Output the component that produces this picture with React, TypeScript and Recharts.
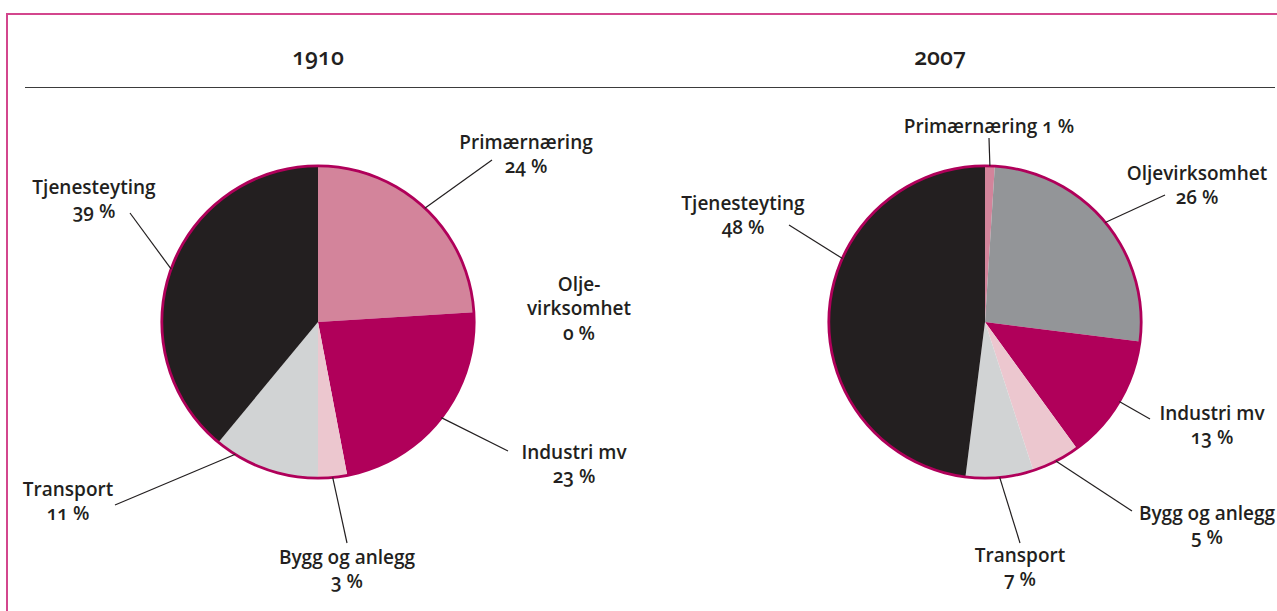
import { PieChart, Pie, Cell } from "recharts";

// sector names, in drawing order (clockwise from 12 o'clock)
const sectors = ["Primærnæring", "Oljevirksomhet", "Industri mv", "Bygg og anlegg", "Transport", "Tjenesteyting"];
const share1910 = [24, 0, 23, 3, 11, 39];
const share2007 = [1, 26, 13, 5, 7, 48];
const years = ["1910", "2007"];

const colors = ["#d3849b", "#939598", "#b0005a", "#ecc7cf", "#d1d3d4", "#231f20"];
const RING = "#b0005a";
const TEXT = "#231f20";
const FONT = "'Open Sans', 'Noto Sans', sans-serif";

const R = 156;
const CY = 322;
const CX = [318, 985];

// label placement relative to pie centre: line end (ex, ey), text centre (tx, ty)
// form: "two" = name / value, "hyph" = split name in three lines, "one" = single line, angle = override of leader start
type LabelPos = { ex?: number; ey?: number; tx: number; ty: number; form: string; angle?: number };
const labels1910: LabelPos[] = [
  { ex: 174, ey: -162, tx: 208, ty: -180, form: "two" },
  { tx: 261, ty: -38, form: "hyph" },
  { ex: 190, ey: 129, tx: 256, ty: 130, form: "two" },
  { ex: 29, ey: 221, tx: 29, ty: 235, form: "two" },
  { ex: -203, ey: 183, tx: -250, ty: 167, form: "two", angle: 212 },
  { ex: -188, ey: -109, tx: -224, ty: -135, form: "two" },
];
const labels2007: LabelPos[] = [
  { ex: 4, ey: -184, tx: 4, ty: -196, form: "one" },
  { ex: 180, ey: -127, tx: 212, ty: -149, form: "two" },
  { ex: 165, ey: 97, tx: 227, ty: 91, form: "two" },
  { ex: 147, ey: 189, tx: 222, ty: 191, form: "two" },
  { ex: 35, ey: 221, tx: 35, ty: 233, form: "two" },
  { ex: -196, ey: -97, tx: -242, ty: -119, form: "two", angle: 294 },
];

const data1910 = sectors.map((name, i) => ({ name, value: share1910[i] }));
const data2007 = sectors.map((name, i) => ({ name, value: share2007[i] }));
const ringData = [{ name: "ring", value: 1 }];

function makeLabel(layout: LabelPos[]) {
  return (props: any) => {
    const { cx, cy, midAngle, index, name, value } = props;
    const pos = layout[index];
    if (!pos) return null;
    // clockwise-from-top angle
    const theta = ((pos.angle ?? 90 - midAngle) * Math.PI) / 180;
    const sx = cx + R * Math.sin(theta);
    const sy = cy - R * Math.cos(theta);
    const tx = cx + pos.tx;
    const ty = cy + pos.ty;
    let lines: string[];
    if (pos.form === "one") lines = [`${name} ${value} %`];
    else if (pos.form === "hyph") lines = [name.slice(0, 4) + "-", name.slice(4), `${value} %`];
    else lines = [name, `${value} %`];
    return (
      <g key={`lab-${index}`}>
        {pos.ex !== undefined && (
          <line x1={sx} y1={sy} x2={cx + pos.ex} y2={cy + (pos.ey ?? 0)} stroke={TEXT} strokeWidth={1.2} />
        )}
        <text x={tx} y={ty} textAnchor="middle" fill={TEXT} fontFamily={FONT} fontSize={19} fontWeight={600}
          style={{ fontVariantNumeric: "oldstyle-nums" }}>
          {lines.map((l, k) => (
            <tspan key={k} x={tx} dy={k === 0 ? 6.5 : 24.5}>{l}</tspan>
          ))}
        </text>
      </g>
    );
  };
}

export default function App() {
  return (
    <div style={{ position: "absolute", left: 0, top: 0, width: 1277, height: 611, overflow: "hidden", background: "#fff" }}>
      <div style={{ position: "absolute", left: 6, top: 13, width: 1320, height: 700, border: "2px solid #d3468d" }} />
      <div style={{ position: "absolute", left: 25, top: 87, width: 1250, height: 0, borderTop: "1.6px solid #3b3b3b" }} />
      {years.map((y, i) => (
        <div key={y} style={{ position: "absolute", left: [318, 940][i] - 60, width: 120, top: 40, textAlign: "center",
          fontFamily: FONT, fontWeight: 600, fontSize: 23, color: TEXT, fontVariantNumeric: "oldstyle-nums" }}>{y}</div>
      ))}
      <div style={{ position: "absolute", left: 0, top: 0 }}>
        <PieChart width={1277} height={611} margin={{ top: 0, right: 0, bottom: 0, left: 0 }}>
          <Pie data={data1910} dataKey="value" cx={CX[0]} cy={CY} outerRadius={R} startAngle={90} endAngle={-270}
            stroke="none" isAnimationActive={false} labelLine={false} label={makeLabel(labels1910)}>
            {data1910.map((d, i) => <Cell key={d.name} fill={colors[i]} />)}
          </Pie>
          <Pie data={ringData} dataKey="value" cx={CX[0]} cy={CY} innerRadius={R - 1.2} outerRadius={R + 1.6}
            fill={RING} stroke="none" isAnimationActive={false} />
          <Pie data={data2007} dataKey="value" cx={CX[1]} cy={CY} outerRadius={R} startAngle={90} endAngle={-270}
            stroke="none" isAnimationActive={false} labelLine={false} label={makeLabel(labels2007)}>
            {data2007.map((d, i) => <Cell key={d.name} fill={colors[i]} />)}
          </Pie>
          <Pie data={ringData} dataKey="value" cx={CX[1]} cy={CY} innerRadius={R - 1.2} outerRadius={R + 1.6}
            fill={RING} stroke="none" isAnimationActive={false} />
        </PieChart>
      </div>
    </div>
  );
}
